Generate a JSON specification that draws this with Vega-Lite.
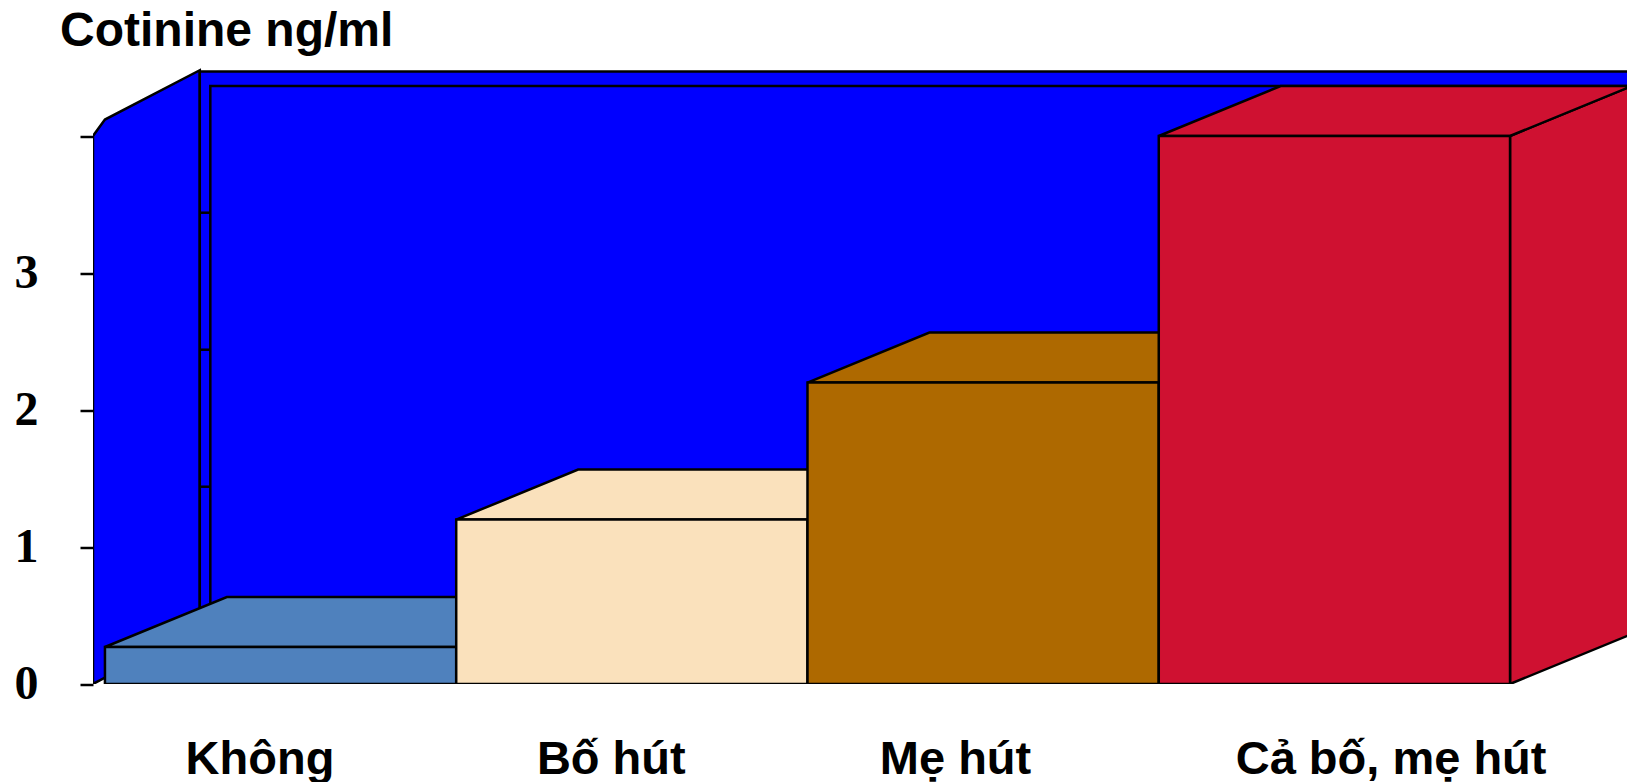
{
  "$schema": "https://vega.github.io/schema/vega-lite/v6.json",
  "autosize": {"type": "none"},
  "width": 1534,
  "height": 616.5,
  "padding": {"left": 93, "top": 67.5, "right": 0, "bottom": 98},
  "background": "white",
  "config": {"view": {"stroke": null}},
  "title": {"text": "Cotinine ng/ml", "anchor": "start", "frame": "group", "dx": -33, "dy": 48, "offset": 22, "baseline": "alphabetic", "font": "Liberation Sans", "fontSize": 48, "fontWeight": "bold", "color": "black"},
  "data": {"values": [
    {"group": "Không", "order": 0, "cotinine": 0.27},
    {"group": "Bố hút", "order": 1, "cotinine": 1.2},
    {"group": "Mẹ hút", "order": 2, "cotinine": 2.2},
    {"group": "Cả bố, mẹ hút", "order": 3, "cotinine": 4.0}
  ]},
  "layer": [
    {
      "data": {"values": [{"part": "left wall"}]},
      "transform": [
        {"calculate": "[0,1,2]", "as": "k"},
        {"flatten": ["k"]},
        {"calculate": "datum.k == 0 ? -0.034 : datum.k == 1 ? 0 : 0.27", "as": "wx"},
        {"calculate": "datum.k == 0 ? 0 : datum.k == 1 ? 0.046 : 0.365", "as": "wb"},
        {"calculate": "datum.k == 0 ? 4.0 : datum.k == 1 ? 4.12 : 4.48", "as": "wt"}
      ],
      "mark": {"type": "area", "fill": "#0000FF", "stroke": "black", "strokeWidth": 2.5, "clip": true},
      "encoding": {
        "x": {"field": "wx", "type": "quantitative", "title": null,
          "scale": {"domain": [-0.034, 4.333], "nice": false, "zero": false},
          "axis": {"values": [0.44, 1.44, 2.42, 3.66], "labelExpr": "datum.value < 1 ? 'Không' : datum.value < 2 ? 'Bố hút' : datum.value < 3 ? 'Mẹ hút' : 'Cả bố, mẹ hút'", "domain": false, "ticks": false, "tickSize": 0, "grid": false, "labelFlush": false, "labelOverlap": false, "labelBound": false, "labelLimit": 0, "labelPadding": 52, "labelFont": "Liberation Sans", "labelFontWeight": "bold", "labelFontSize": 47, "labelColor": "black"}},
        "y": {"field": "wt", "type": "quantitative", "title": null, "stack": null,
          "scale": {"domain": [0, 4.5], "nice": false, "zero": false},
          "axis": {"values": [0, 1, 2, 3, 4], "format": "d", "labelExpr": "datum.value == 4 ? '' : datum.label", "domain": false, "grid": false, "tickSize": 13, "tickWidth": 2.5, "tickColor": "black", "labelPadding": 42, "labelFont": "Liberation Serif", "labelFontWeight": "bold", "labelFontSize": 48, "labelColor": "black"}},
        "y2": {"field": "wb"}
      }
    },
    {
      "data": {"values": [{"part": "back wall"}]},
      "mark": {"type": "rect", "fill": "#0000FF", "stroke": "black", "strokeWidth": 2.5, "clip": true},
      "encoding": {
        "x": {"datum": 0.27, "type": "quantitative"},
        "x2": {"datum": 4.6},
        "y": {"datum": 0.365, "type": "quantitative"},
        "y2": {"datum": 4.47}
      }
    },
    {
      "data": {"values": [{"part": "back panel"}]},
      "mark": {"type": "rect", "fill": "#0000FF", "stroke": "black", "strokeWidth": 2.5, "clip": true},
      "encoding": {
        "x": {"datum": 0.30, "type": "quantitative"},
        "x2": {"datum": 4.6},
        "y": {"datum": 0.365, "type": "quantitative"},
        "y2": {"datum": 4.365}
      }
    },
    {
      "data": {"values": [{"level": 1}, {"level": 2}, {"level": 3}]},
      "transform": [{"calculate": "datum.level + 0.44", "as": "ly"}],
      "mark": {"type": "rule", "stroke": "black", "strokeWidth": 2.5},
      "encoding": {
        "x": {"datum": 0.27, "type": "quantitative"},
        "x2": {"datum": 0.30},
        "y": {"field": "ly", "type": "quantitative", "title": null}
      }
    },
    {
      "transform": [
        {"calculate": "[0,1]", "as": "k"},
        {"flatten": ["k"]},
        {"calculate": "datum.order + 1 + (datum.k == 1 ? 0.347 : 0)", "as": "sx"},
        {"calculate": "datum.k == 1 ? 0.365 : 0", "as": "sb"},
        {"calculate": "datum.cotinine + (datum.k == 1 ? 0.365 : 0)", "as": "st"}
      ],
      "mark": {"type": "area", "stroke": "black", "strokeWidth": 2.5, "clip": true},
      "encoding": {
        "x": {"field": "sx", "type": "quantitative", "title": null},
        "y": {"field": "st", "type": "quantitative", "title": null, "stack": null},
        "y2": {"field": "sb"},
        "color": {"field": "group", "type": "nominal", "legend": null,
          "scale": {"domain": ["Không", "Bố hút", "Mẹ hút", "Cả bố, mẹ hút"], "range": ["#4F81BD", "#FAE1BC", "#AE6900", "#CF1131"]}}
      }
    },
    {
      "transform": [
        {"calculate": "[0,1,2,3]", "as": "k"},
        {"flatten": ["k"]},
        {"calculate": "datum.order + (datum.k == 0 ? 0 : datum.k == 1 ? 0.347 : datum.k == 2 ? 1 : 1.347)", "as": "tx"},
        {"calculate": "datum.cotinine + (datum.k == 3 ? 0.365 : 0)", "as": "tb"},
        {"calculate": "datum.cotinine + (datum.k == 0 ? 0 : 0.365)", "as": "tt"}
      ],
      "mark": {"type": "area", "stroke": "black", "strokeWidth": 2.5, "clip": true},
      "encoding": {
        "x": {"field": "tx", "type": "quantitative", "title": null},
        "y": {"field": "tt", "type": "quantitative", "title": null, "stack": null},
        "y2": {"field": "tb"},
        "color": {"field": "group", "type": "nominal", "legend": null}
      }
    },
    {
      "transform": [
        {"calculate": "datum.order", "as": "fx0"},
        {"calculate": "datum.order + 1", "as": "fx1"}
      ],
      "mark": {"type": "rect", "stroke": "black", "strokeWidth": 2.5, "clip": true},
      "encoding": {
        "x": {"field": "fx0", "type": "quantitative", "title": null},
        "x2": {"field": "fx1"},
        "y": {"field": "cotinine", "type": "quantitative", "title": null},
        "y2": {"datum": 0},
        "color": {"field": "group", "type": "nominal", "legend": null}
      }
    }
  ]
}
